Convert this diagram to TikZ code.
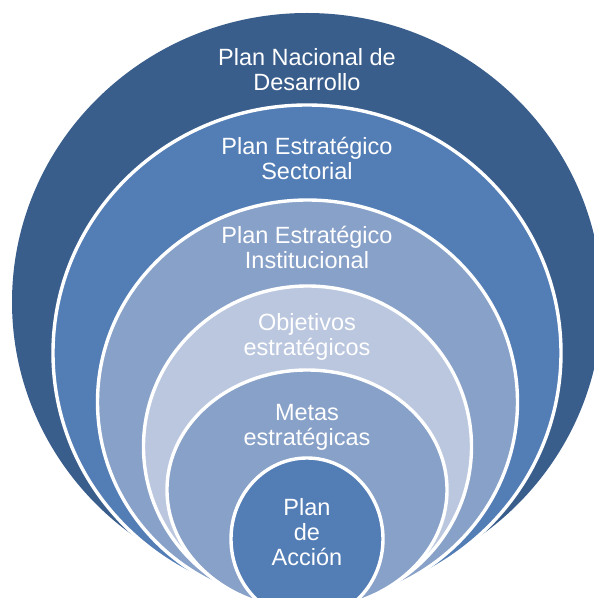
\documentclass[tikz,border=0pt]{standalone}
\usepackage{fontspec}
\setmainfont{Liberation Sans}
\definecolor{cA}{RGB}{58,94,140}
\definecolor{cB}{RGB}{83,125,181}
\definecolor{cC}{RGB}{136,161,200}
\definecolor{cD}{RGB}{186,199,223}
\tikzset{
  ring/.style={draw=white, line width=3.4pt},
  lbl/.style={text=white, align=center, inner sep=0pt, font=\fontsize{23.5}{25}\selectfont}
}
\begin{document}
\begin{tikzpicture}[x=1pt,y=1pt]
\useasboundingbox (0,0) rectangle (594,598);
\clip (0,0) rectangle (594,598);
% nested shapes (y = 598 - pixel row)
\fill[cA] (307,296) ellipse [x radius=295, y radius=289];
\path[ring, fill=cB] (307,245) ellipse [x radius=254, y radius=248];
\path[ring, fill=cC] (307.5,196) ellipse [x radius=210, y radius=202];
\path[ring, fill=cD] (307.5,151.3) ellipse [x radius=164, y radius=160.7];
\path[ring, fill=cC] (307,108.2) ellipse [x radius=140, y radius=119.8];
\path[ring, fill=cB] (307,59) ellipse [x radius=76, y radius=81];
% labels
\node[lbl] (t1) at (307,528) {Plan Nacional de\\Desarrollo};
\node[lbl] (t2) at (307,440) {Plan Estratégico\\Sectorial};
\node[lbl] (t3) at (307,351) {Plan Estratégico\\Institucional};
\node[lbl] (t4) at (307,261) {Objetivos\\estratégicos};
\node[lbl] (t5) at (307,171) {Metas\\estratégicas};
\node[lbl] (t6) at (307,66) {Plan\\de\\Acción};
\end{tikzpicture}
\end{document}
